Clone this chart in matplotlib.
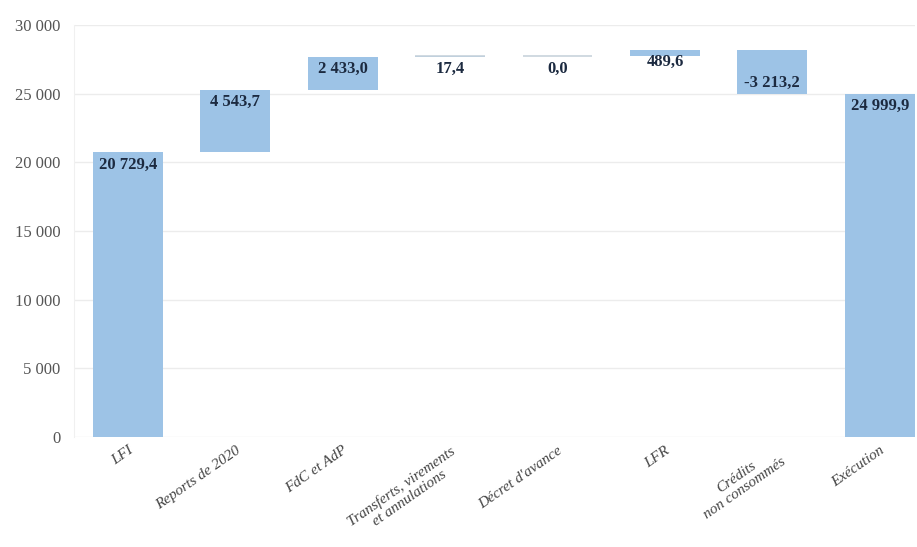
import numpy as np
import matplotlib.pyplot as plt
from matplotlib.ticker import FuncFormatter

# Data (M€)
categories = ["LFI", "Reports de 2020", "FdC et AdP", "Transferts, virements\net annulations",
              "Décret d'avance", "LFR", "Crédits\nnon consommés", "Exécution"]
steps = [20729.4, 4543.7, 2433.0, 17.4, 0.0, 489.6, -3213.2]
total = 24999.9
labels = ["20 729,4", "4 543,7", "2 433,0", "17,4", "0,0", "489,6", "-3 213,2", "24 999,9"]

plt.rcParams["font.family"] = ["Liberation Serif", "DejaVu Serif"]

BAR = "#9dc3e6"
TXT = "#1c2a40"

cum = np.cumsum([0] + steps)
bottoms = list(np.minimum(cum[:-1], cum[1:])) + [0]
heights = [abs(s) for s in steps] + [total]
ends = list(cum[1:]) + [total]
x = np.arange(len(categories))

fig = plt.figure(figsize=(9.17, 5.47), dpi=100)
ax = fig.add_axes([0.081, 0.201, 0.917, 0.753])

ax.bar(x, heights, bottom=bottoms, width=0.65, color=BAR, zorder=2)
# near-zero steps still show as thin lines
for i, h in enumerate(heights):
    if h < 100:
        ax.hlines(bottoms[i] + h, x[i] - 0.325, x[i] + 0.325, color="#c8d3dc", lw=1.2, zorder=2)

for i in range(len(categories)):
    if i < len(steps) and steps[i] < 0:
        ax.annotate(labels[i], (x[i], ends[i]), xytext=(0, 2), textcoords="offset points",
                    ha="center", va="bottom", fontsize=12, fontweight="bold", color=TXT, zorder=3)
    else:
        ax.annotate(labels[i], (x[i], bottoms[i] + heights[i]), xytext=(0, -3), textcoords="offset points",
                    ha="center", va="top", fontsize=12, fontweight="bold", color=TXT, zorder=3)

ax.set_ylim(0, 30000)
ax.set_xlim(-0.5, len(categories) - 1 + 0.33)
ax.set_yticks(np.arange(0, 30001, 5000))
ax.yaxis.set_major_formatter(FuncFormatter(lambda v, p: f"{int(v):,}".replace(",", " ")))
ax.grid(axis="y", color="#ececec", lw=1, zorder=0)
for s in ["top", "right", "bottom"]:
    ax.spines[s].set_visible(False)
ax.spines["left"].set_color("#f0f0f0")
ax.tick_params(axis="both", length=0, colors="#555555")
ax.tick_params(axis="y", labelsize=12, pad=10)

ax.set_xticks(x)
ax.set_xticklabels(categories, rotation=35, ha="right", rotation_mode="anchor",
                   fontsize=11, fontstyle="italic", color="#444444", multialignment="center",
                   linespacing=1.1)
ax.tick_params(axis="x", pad=5)

fig.savefig("out.png", dpi=100)
